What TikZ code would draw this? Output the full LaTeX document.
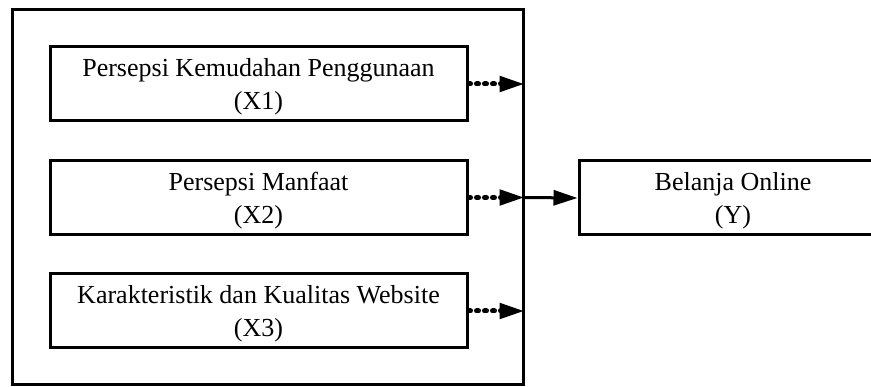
\documentclass[tikz,border=0pt]{standalone}
\usepackage{fontspec}
\setmainfont{Liberation Serif}
\usetikzlibrary{arrows.meta}
\newcommand\topgap{\rule{0pt}{25pt}}
\newcommand\botgap{\rule[-6pt]{0pt}{6pt}}
\tikzset{
  varbox/.style = {draw, line width=3pt, minimum width=417pt, minimum height=74pt,
    inner sep=0pt, align=center, font=\fontsize{26}{33}\selectfont},
  dotarrow/.style = {line width=5pt, line cap=round, dash pattern=on 2pt off 6pt,
    -{Triangle[length=25pt,width=15pt,line cap=butt]}},
  solidarrow/.style = {line width=3pt, -{Triangle[length=24pt,width=15pt]}}
}
\begin{document}
\begin{tikzpicture}[x=1pt, y=-1pt]
      \useasboundingbox (0, 0) rectangle (871, 387);
      % boxes
      \node[draw, line width=3pt, minimum width=511pt, minimum height=375pt, inner sep=0pt] (vars) at (267.5, 197.5) {};
      \node[varbox] (x1) at (258.5, 84) {\topgap Persepsi Kemudahan Penggunaan\\(X1)\botgap};
      \node[varbox] (x2) at (258.5, 197.5) {\topgap Persepsi Manfaat\\(X2)\botgap};
      \node[varbox] (x3) at (258.5, 311) {\topgap Karakteristik dan Kualitas Website\\(X3)\botgap};
      \node[varbox, minimum width=308pt] (y) at (733, 198) {\topgap Belanja Online\\(Y)\botgap};
      % arrows
      \draw[dotarrow] (x1.east) -- (x1.east -| vars.east);
      \draw[dotarrow] (x2.east) -- (x2.east -| vars.east);
      \draw[dotarrow] (x3.east) -- (x3.east -| vars.east);
      \draw[solidarrow] (x2.east -| vars.east) -- (y.west);
\end{tikzpicture}
\end{document}
